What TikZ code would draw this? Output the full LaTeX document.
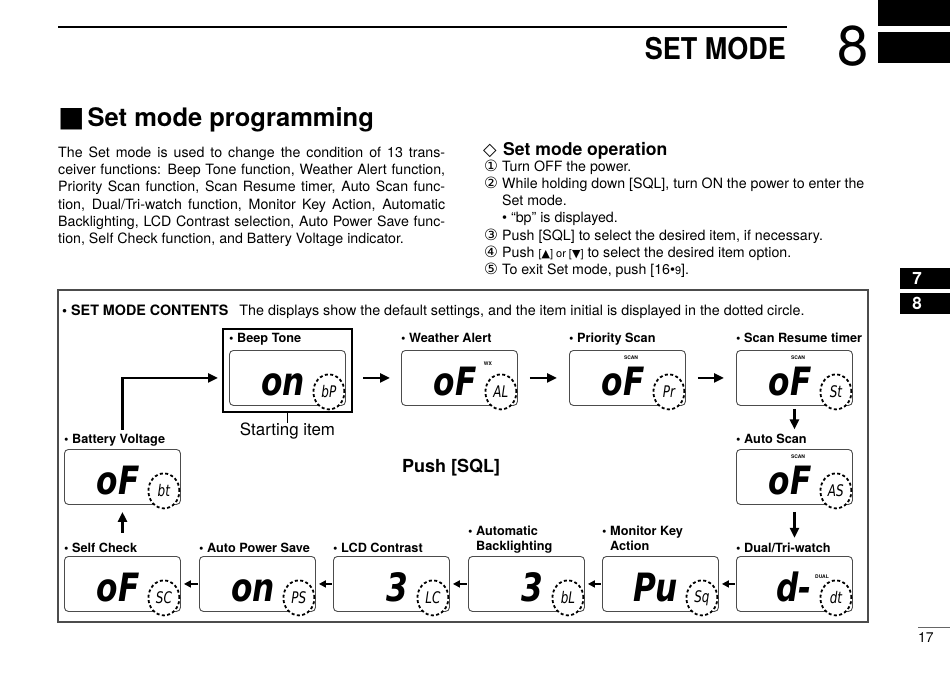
\documentclass[tikz,border=0pt]{standalone}
\usepackage{fontspec}
\usepackage{graphicx}
\setmainfont{TeX Gyre Heros}
\newfontfamily\symfont{DejaVu Sans}
\newfontfamily\segfont{DejaVu Sans}
\usetikzlibrary{positioning,arrows.meta,calc,shapes.geometric}

\newcommand{\setfs}[2]{\fontsize{#1}{#2}\selectfont}
\newcommand{\jl}[1]{\makebox[387pt][s]{#1}}
\newcommand{\circnum}[1]{\makebox[18pt][l]{\symfont\setfs{15.5}{17}#1}}
\newcommand{\lcdval}[1]{\scalebox{0.8}[1]{\segfont\bfseries\itshape #1}}
\newcommand{\lcdtag}[1]{\scalebox{0.75}[1]{\segfont\itshape\setfs{16}{16}#1}}

\begin{document}
\begin{tikzpicture}[
  x=1pt, y=-1pt,
  font=\setfs{14.2}{17.3},
  lcd/.style={draw=black!70, line width=0.9pt, rounded corners=4pt, fill=white,
              minimum width=116pt, minimum height=55pt, anchor=north west, inner sep=0pt},
  inicirc/.style={ellipse, draw=black, fill=white, line width=1.8pt,
              dash pattern=on 3pt off 2.4pt, minimum width=31pt, minimum height=35pt, inner sep=0pt},
  segtxt/.style={anchor=base east, inner sep=0pt, font=\setfs{39}{39}},
  lbl/.style={anchor=base west, inner sep=0pt, font=\setfs{12.7}{15}\bfseries},
  opline/.style={anchor=base west, inner sep=0pt},
  tiny/.style={inner sep=0pt, font=\setfs{5}{5}\bfseries},
  flow/.style={-{Triangle[length=10pt,width=9pt]}, line width=2.6pt},
  back/.style={-{Triangle[length=7pt,width=7pt]}, line width=2pt}
]
\useasboundingbox (0,0) rectangle (950,672);

% ---- page header ----
\draw[line width=2pt] (58,27) -- (787,27);
\node[anchor=base east, inner sep=0pt, font=\setfs{30}{30}\bfseries] (hdr) at (786,59)
  {\scalebox{0.9}[1]{SET MODE}};
\node[anchor=base west, inner sep=0pt, font=\setfs{56}{56}] (chap) at (837,65) {8};
\fill (878,0) rectangle (950,26);
\fill (878,32) rectangle (950,63);

% ---- section title and intro ----
\node[anchor=base west, inner sep=0pt, font=\setfs{25.5}{30}\bfseries] (title) at (58,126)
  {{\symfont\setfs{28}{30}■}\hspace{3pt}Set mode programming};
\node[anchor=north west, inner sep=0pt, align=left] (intro) at (58,146.3)
  {\jl{The Set mode is used to change the condition of 13 trans-}\\
   \jl{ceiver functions: Beep Tone function, Weather Alert function,}\\
   \jl{Priority Scan function, Scan Resume timer, Auto Scan func-}\\
   \jl{tion, Dual/Tri-watch function, Monitor Key Action, Automatic}\\
   \jl{Backlighting, LCD Contrast selection, Auto Power Save func-}\\
   tion, Self Check function, and Battery Voltage indicator.};

% ---- set mode operation ----
\node[anchor=base west, inner sep=0pt, font=\setfs{17.6}{20}\bfseries] (ophead) at (483,155)
  {\makebox[20pt][l]{\symfont ◇}Set mode operation};
\node[opline] (op1) at (484,171) {\circnum{①}Turn OFF the power.};
\node[opline] (op2) at (484,188.3)
  {\circnum{②}While holding down [SQL], turn ON the power to enter the};
\node[opline] (op2b) at (502,205.6) {Set mode.};
\node[opline] (op2c) at (502,222.9) {\textbullet\ “bp” is displayed.};
\node[opline] (op3) at (484,240.2)
  {\circnum{③}Push [SQL] to select the desired item, if necessary.};
\node[opline] (op4) at (484,257.5)
  {\circnum{④}Push {\setfs{11}{11}[{\symfont ▲}] or [{\symfont ▼}]} to select the desired item option.};
\node[opline] (op5) at (484,274.8)
  {\circnum{⑤}To exit Set mode, push [16\textbullet{\setfs{11}{11}9}].};

% ---- side tabs and page number ----
\fill (900,268) rectangle (950,289);
\node[text=white, font=\setfs{17}{17}\bfseries] (tab7) at (917,278.5) {7};
\fill (900,293) rectangle (950,314);
\node[text=white, font=\setfs{17}{17}\bfseries] (tab8) at (917,303.5) {8};
\draw[black!60, line width=0.8pt] (918,627) -- (950,627);
\node[anchor=base west, inner sep=0pt, font=\setfs{14}{14}] (pgno) at (918,642) {17};

% ---- contents frame ----
\draw[black!70, line width=1.3pt] (58,290) rectangle (868,622);
\node[anchor=base west, inner sep=0pt, font=\setfs{14.3}{16}] (cont) at (62,315)
  {\textbf{\textbullet\ SET MODE CONTENTS}\hspace{11pt}The displays show the default settings, and the item initial is displayed in the dotted circle.};

% ---- starting item box ----
\node[draw, line width=2pt, minimum width=129pt, minimum height=83pt,
      anchor=north west, inner sep=0pt] (beep) at (222,328) {};
\node[below=10pt of beep, inner sep=0pt, font=\setfs{16.9}{18}] (start) {Starting item};
\draw[line width=1pt] (beep.south) -- (start.north);

% ---- lcd panels ----
\foreach \p/\px/\py/\val/\tag in {
  bp/229/350/on/bP, al/401/350/oF/AL, pr/569/350/oF/Pr, st/736/350/oF/St,
  bt/64/449/oF/bt, as/736/449/oF/AS,
  sc/64/556/oF/SC, ps/199/556/on/PS, lc/333/556/3/LC,
  bl/468/556/3/bL, sq/602/556/Pu/Sq, dt/736/556/d-/dt}{
  \node[lcd] (\p) at (\px,\py) {};
  \node[inicirc] (c\p) at ($(\p.south east)+(-17,-14)$) {\lcdtag{\tag}};
  \node[segtxt] (v\p) at ($(c\p.center)+(-24,4)$) {\lcdval{\val}};
}
\node[tiny] (wx) at ($(al.north west)+(87,14)$) {WX};
\foreach \p in {pr,st,as}
  \node[tiny] (scan\p) at ($(\p.north west)+(62,8)$) {SCAN};
\node[tiny] (dual) at ($(dt.north west)+(86,21)$) {DUAL};

% ---- item labels ----
\node[lbl] (lbp) at ($(bp.north west)+(0,-8)$) {\textbullet\ Beep Tone};
\node[lbl] (lal) at ($(al.north west)+(0,-8)$) {\textbullet\ Weather Alert};
\node[lbl] (lpr) at ($(pr.north west)+(0,-8)$) {\textbullet\ Priority Scan};
\node[lbl] (lst) at ($(st.north west)+(0,-8)$) {\textbullet\ Scan Resume timer};
\node[lbl] (lbt) at ($(bt.north west)+(0,-6)$) {\textbullet\ Battery Voltage};
\node[lbl] (las) at ($(as.north west)+(0,-6)$) {\textbullet\ Auto Scan};
\node[lbl] (lsc) at ($(sc.north west)+(0,-3.5)$) {\textbullet\ Self Check};
\node[lbl] (lps) at ($(ps.north west)+(0,-3.5)$) {\textbullet\ Auto Power Save};
\node[lbl] (llc) at ($(lc.north west)+(0,-3.5)$) {\textbullet\ LCD Contrast};
\node[lbl] (lbl1) at ($(bl.north west)+(0,-21)$) {\textbullet\ Automatic};
\node[lbl] (lbl2) at ($(bl.north west)+(0,-6)$) {\phantom{\textbullet\ }Backlighting};
\node[lbl] (lsq1) at ($(sq.north west)+(0,-21)$) {\textbullet\ Monitor Key};
\node[lbl] (lsq2) at ($(sq.north west)+(0,-6)$) {\phantom{\textbullet\ }Action};
\node[lbl] (ldt) at ($(dt.north west)+(0,-3.5)$) {\textbullet\ Dual/Tri-watch};

\node[font=\setfs{18}{20}\bfseries] (push) at (451,468) {Push [SQL]};

% ---- arrows ----
\draw[flow, shorten <=10pt, shorten >=11pt] (beep.east |- bp.east) -- (al.west);
\draw[flow, shorten <=12pt, shorten >=12pt] (al) -- (pr);
\draw[flow, shorten <=12pt, shorten >=12pt] (pr) -- (st);
\draw[flow, shorten <=3pt, shorten >=4pt] (st.south) -- (st.south |- las.north);
\draw[flow, shorten <=7pt, shorten >=5pt] (as.south) -- (as.south |- ldt.north);
\draw[back, shorten <=1.5pt, shorten >=3pt] (dt) -- (sq);
\draw[back, shorten <=1.5pt, shorten >=3pt] (sq) -- (bl);
\draw[back, shorten <=1.5pt, shorten >=3pt] (bl) -- (lc);
\draw[back, shorten <=1.5pt, shorten >=3pt] (lc) -- (ps);
\draw[back, shorten <=1.5pt, shorten >=3pt] (ps) -- (sc);
\draw[flow, shorten <=10pt, shorten >=7pt] (sc.north |- lsc.north) -- (bt.south);
\draw[flow, shorten <=4pt, shorten >=4pt] (bt.north |- lbt.north) |- (beep.west |- bp.west);
\end{tikzpicture}
\end{document}
